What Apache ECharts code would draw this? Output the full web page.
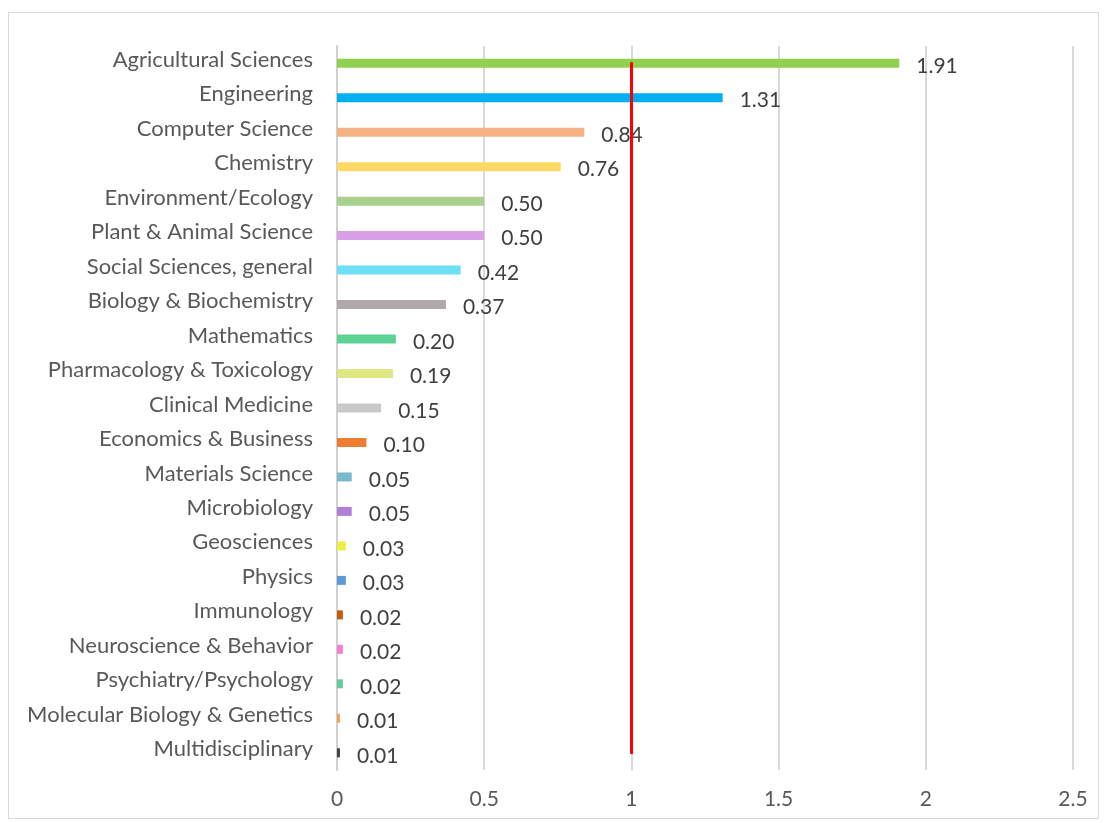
<!DOCTYPE html>
<html>
<head>
<meta charset="utf-8">
<script src="https://cdn.jsdelivr.net/npm/echarts@6/dist/echarts.min.js"></script>
<style>
html,body{margin:0;padding:0;background:#fff;}
#frame{position:absolute;left:8px;top:12px;width:1091px;height:807px;border:1px solid #d9d9d9;box-sizing:border-box;}
#chart{position:absolute;left:0;top:0;width:1106px;height:823px;}
</style>
</head>
<body>
<div id="frame"></div>
<div id="chart"></div>
<script>
const categories = ["Agricultural Sciences","Engineering","Computer Science","Chemistry","Environment/Ecology","Plant & Animal Science","Social Sciences, general","Biology & Biochemistry","Mathematics","Pharmacology & Toxicology","Clinical Medicine","Economics & Business","Materials Science","Microbiology","Geosciences","Physics","Immunology","Neuroscience & Behavior","Psychiatry/Psychology","Molecular Biology & Genetics","Multidisciplinary"];
const values = [1.91,1.31,0.84,0.76,0.50,0.50,0.42,0.37,0.20,0.19,0.15,0.10,0.05,0.05,0.03,0.03,0.02,0.02,0.02,0.01,0.01];
const colors = ["#92D050","#00B0F0","#F4B183","#FFD966","#A9D18E","#D9A0E6","#6EE0F5","#AEAAAA","#5CD394","#DDE882","#C9C9C9","#ED7D31","#7AB8CC","#B07FD8","#EEEE40","#5B9BD5","#C55A11","#F47FD0","#66CC99","#F4A050","#404040"];
const xTicks = [0,0.5,1,1.5,2,2.5];
const refValue = 1;

const chart = echarts.init(document.getElementById('chart'), null, {renderer:'canvas'});
const font = 'Lato';
chart.setOption({
  animation:false,
  grid:{left:337,right:33,top:46,bottom:53,containLabel:false},
  xAxis:{type:'value',min:xTicks[0],max:xTicks[xTicks.length-1],interval:0.5,
    axisLine:{show:false},axisTick:{show:false},
    axisLabel:{color:'#595959',fontFamily:font,fontSize:21,margin:19,formatter:v=>String(v)},
    splitLine:{show:true,lineStyle:{color:'#d9d9d9',width:2}}},
  yAxis:{type:'category',data:categories,inverse:true,
    axisLine:{show:true,lineStyle:{color:'#d0d0d0',width:2}},axisTick:{show:false},
    axisLabel:{margin:24,formatter:v=>'{a|'+v+'}',
      rich:{a:{color:'#595959',fontFamily:font,fontSize:22,padding:[0,0,7,0]}}}},
  series:[{type:'bar',barWidth:9,
    data:values.map((v,i)=>({value:v,itemStyle:{color:colors[i]}})),
    label:{show:true,position:'right',distance:17,offset:[0,3],color:'#404040',fontFamily:font,fontSize:21,formatter:p=>p.value.toFixed(2)},
    markLine:{silent:true,symbol:'none',label:{show:false},
      lineStyle:{color:'#ff0000',width:3,type:'solid',cap:'round'},
      data:[[{coord:[refValue,categories[0]]},{coord:[refValue,categories[categories.length-1]]}]]}
  }]
});
</script>
</body>
</html>
